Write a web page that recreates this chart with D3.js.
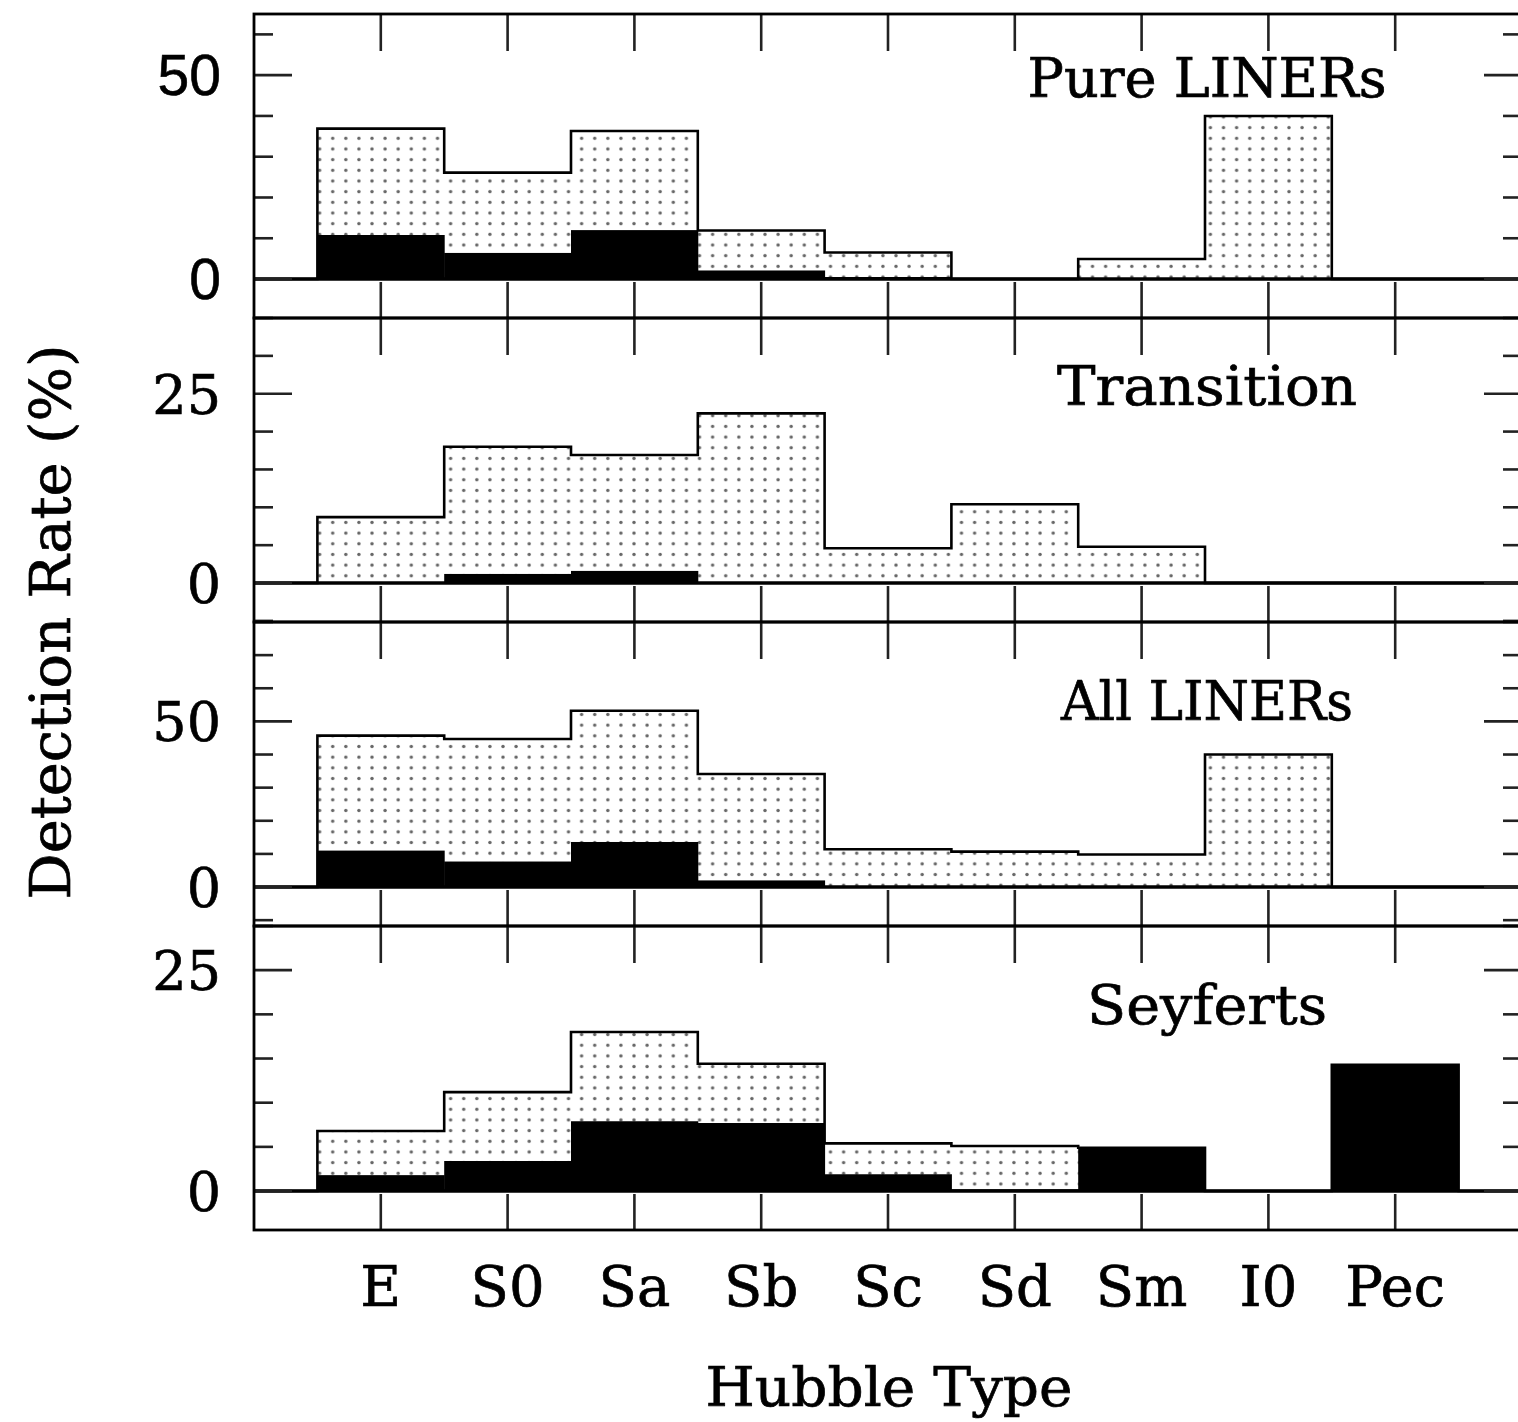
<!DOCTYPE html>
<html><head><meta charset="utf-8">
<script src="https://cdn.jsdelivr.net/npm/d3@7"></script>
<style>
  body { margin: 0; background: #fff; }
  svg { display: block; }
</style>
</head><body>
<svg id="chart" width="1518" height="1422"></svg>
<script>
// Hubble types along the x axis
const hubbleTypes = ["E", "S0", "Sa", "Sb", "Sc", "Sd", "Sm", "I0", "Pec"];
const panelNames = ["Pure LINERs", "Transition", "All LINERs", "Seyferts"];

// Detection rate (%) per Hubble type: total (dotted) and type-1 part (solid)
const pureLinerTotal  = [36.9, 26.1, 36.3, 11.9, 6.5, 0, 4.9, 40.0, 0];
const pureLinerSolid  = [10.8, 6.4, 12.0, 2.1, 0.5, 0, 0, 0, 0];
const transitionTotal = [8.7, 18.0, 16.9, 22.4, 4.6, 10.4, 4.8, 0, 0];
const transitionSolid = [0, 1.2, 1.6, 0, 0, 0, 0, 0, 0];
const allLinerTotal   = [45.7, 44.7, 53.2, 34.1, 11.4, 10.7, 9.8, 40.0, 0];
const allLinerSolid   = [11.0, 7.7, 13.6, 2.0, 0.3, 0, 0, 0, 0];
const seyfertTotal    = [6.8, 11.2, 18.0, 14.4, 5.4, 5.1, 4.9, 0, 14.3];
const seyfertSolid    = [1.8, 3.4, 7.9, 7.7, 1.9, 0.2, 4.9, 0, 14.3];

// Axis settings per panel
const yTop        = [65, 35, 80, 30];
const majorTicks  = [[0, 50], [0, 25], [0, 50], [0, 25]];
const minorStep   = [10, 5, 10, 5];

const totals = [pureLinerTotal, transitionTotal, allLinerTotal, seyfertTotal];
const solids = [pureLinerSolid, transitionSolid, allLinerSolid, seyfertSolid];

// ---- layout ----
const L = 254, R = 1522, T = 14, PH = 304;
const labelOffset = [83, 87, 98, 98];
const labelWidth = [359, 300, 292, 240];
const serif = "'DejaVu Serif', 'Liberation Serif', serif";
const sans = "'Liberation Sans', Arial, sans-serif";

const svg = d3.select("#chart");

// dotted fill
const defs = svg.append("defs");
const pat = defs.append("pattern")
  .attr("id", "dots")
  .attr("patternUnits", "userSpaceOnUse")
  .attr("x", 332.7 - 6.55).attr("y", 138.3 - 5.33)
  .attr("width", 13.1).attr("height", 10.67);
pat.append("rect").attr("width", 13.1).attr("height", 10.67).attr("fill", "#fff");
pat.append("circle").attr("cx", 6.55).attr("cy", 5.33).attr("r", 1.7).attr("fill", "#666");

const x = d3.scaleLinear().domain([-1, hubbleTypes.length]).range([L, R]);

// thicken text strokes slightly
function ink(sel, w) {
  return sel.attr("fill", "#000").attr("stroke", "#000").attr("stroke-width", w);
}

panelNames.forEach((name, p) => {
  const top = T + p * PH, bottom = top + PH;
  const yMax = yTop[p];
  const y = d3.scaleLinear().domain([-0.147 * yMax, yMax]).range([bottom, top]);
  const g = svg.append("g");
  const tot = totals[p], sol = solids[p];

  // dotted total bars
  g.selectAll("rect.tot").data(hubbleTypes).join("rect")
    .attr("x", (d, i) => x(i - 0.5))
    .attr("width", x(1) - x(0))
    .attr("y", (d, i) => y(tot[i]))
    .attr("height", (d, i) => y(0) - y(tot[i]))
    .attr("fill", "url(#dots)");

  // solid bars
  g.selectAll("rect.sol").data(hubbleTypes).join("rect")
    .attr("x", (d, i) => x(i - 0.5))
    .attr("width", x(1) - x(0) + 0.5)
    .attr("y", (d, i) => y(sol[i]))
    .attr("height", (d, i) => y(0) - y(sol[i]))
    .attr("fill", "#000");

  // outline of totals as a step histogram
  const pts = [[-1, 0]].concat(tot.map((v, i) => [i - 0.5, v]))
    .concat([[hubbleTypes.length - 0.5, 0], [hubbleTypes.length, 0]]);
  g.append("path")
    .attr("d", d3.line().x(d => x(d[0])).y(d => y(d[1])).curve(d3.curveStepAfter)(pts))
    .attr("fill", "none").attr("stroke", "#000").attr("stroke-width", 2.6);

  // zero line
  g.append("line").attr("x1", L).attr("x2", R).attr("y1", y(0)).attr("y2", y(0))
    .attr("stroke", "#000").attr("stroke-width", 3.5);

  // y ticks (left and right)
  const ticks = d3.range(-Math.floor(0.147 * yMax / minorStep[p]) * minorStep[p], yMax + 0.001, minorStep[p]);
  ticks.forEach(v => {
    const major = majorTicks[p].includes(v);
    const len = major ? 38 : 19;
    g.append("line").attr("x1", L).attr("x2", L + len).attr("y1", y(v)).attr("y2", y(v))
      .attr("stroke", "#222").attr("stroke-width", 2.6);
    g.append("line").attr("x1", R).attr("x2", R - len).attr("y1", y(v)).attr("y2", y(v))
      .attr("stroke", "#222").attr("stroke-width", 2.6);
  });

  // y tick labels
  majorTicks[p].forEach(v => {
    ink(g.append("text"), 0.6)
      .attr("x", 221).attr("y", y(v) + 20)
      .attr("text-anchor", "end")
      .attr("font-family", p === 0 ? sans : serif)
      .attr("font-size", p === 0 ? 57 : 54)
      .text(v);
  });

  // x ticks on top and bottom of the panel
  hubbleTypes.forEach((t, i) => {
    g.append("line").attr("x1", x(i)).attr("x2", x(i)).attr("y1", top).attr("y2", top + 37)
      .attr("stroke", "#222").attr("stroke-width", 2.6);
    g.append("line").attr("x1", x(i)).attr("x2", x(i)).attr("y1", bottom).attr("y2", bottom - 36)
      .attr("stroke", "#222").attr("stroke-width", 2.6);
  });

  // frame
  g.append("rect").attr("x", L).attr("y", top).attr("width", R - L).attr("height", PH)
    .attr("fill", "none").attr("stroke", "#000").attr("stroke-width", 2.8);

  // panel label
  ink(g.append("text"), 0.7)
    .attr("x", 1207).attr("y", top + labelOffset[p])
    .attr("text-anchor", "middle")
    .attr("font-family", serif).attr("font-size", 55)
    .attr("textLength", labelWidth[p]).attr("lengthAdjust", "spacingAndGlyphs")
    .text(name);
});

// x tick labels
ink(svg.append("g").selectAll("text").data(hubbleTypes).join("text"), 0.7)
  .attr("x", (d, i) => x(i)).attr("y", 1306)
  .attr("text-anchor", "middle")
  .attr("font-family", serif).attr("font-size", 56)
  .text(d => d);

// axis titles
ink(svg.append("text"), 0.7)
  .attr("x", 889).attr("y", 1406)
  .attr("text-anchor", "middle")
  .attr("font-family", serif).attr("font-size", 54)
  .attr("textLength", 367).attr("lengthAdjust", "spacingAndGlyphs")
  .text("Hubble Type");

ink(svg.append("text"), 0.7)
  .attr("transform", "translate(70,622) rotate(-90)")
  .attr("text-anchor", "middle")
  .attr("font-family", serif).attr("font-size", 56)
  .attr("textLength", 555).attr("lengthAdjust", "spacingAndGlyphs")
  .text("Detection Rate (%)");
</script>
</body></html>
